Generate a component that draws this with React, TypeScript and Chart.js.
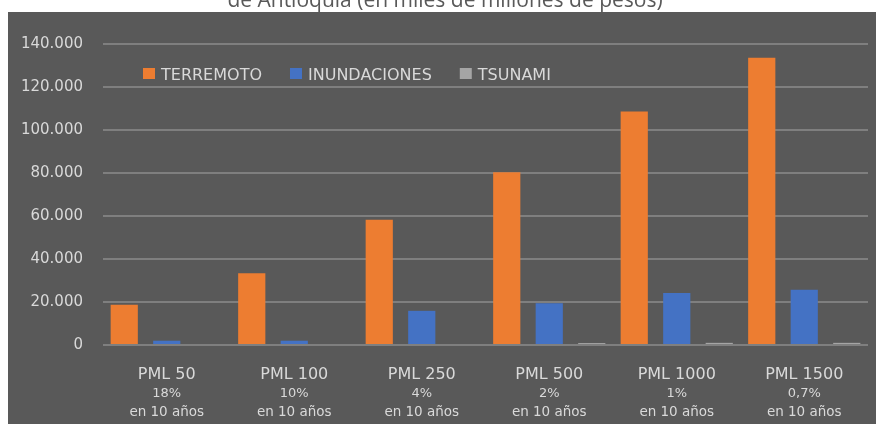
import React, { useEffect, useRef } from "react";
import { Chart, registerables } from "chart.js";

Chart.register(...registerables);

const titleText = "de Antioquia (en miles de millones de pesos)";
const categories = ["PML 50", "PML 100", "PML 250", "PML 500", "PML 1000", "PML 1500"];
const probabilities = ["18%", "10%", "4%", "2%", "1%", "0,7%"];
const periodLabel = "en 10 años";
const seriesNames = ["TERREMOTO", "INUNDACIONES", "TSUNAMI"];
const terremoto = [18700, 33400, 58200, 80300, 108600, 133600];
const inundaciones = [2000, 2000, 15900, 19400, 24200, 25700];
const tsunami = [0, 0, 0, 900, 1000, 1000];
const yMax = 140000;
const yStep = 20000;

const colors = ["#ED7D31", "#4472C4", "#A5A5A5"];
const PANEL = "#595959";
const TEXT = "#D9D9D9";
const FONT = "'DejaVu Sans', sans-serif";

const fmt = (v: number) => String(v).replace(/\B(?=(\d{3})+(?!\d))/g, ".");

const backgroundPlugin = {
  id: "bgPanel",
  beforeDraw(chart: any) {
    const { ctx, width, height } = chart;
    ctx.save();
    ctx.fillStyle = "#FFFFFF";
    ctx.fillRect(0, 0, width, height);
    ctx.fillStyle = PANEL;
    ctx.fillRect(8, 12, width - 8, height - 12);
    ctx.fillStyle = "#595959";
    ctx.font = "21px 'Open Sans', sans-serif";
    ctx.textAlign = "center";
    ctx.textBaseline = "alphabetic";
    ctx.fillText(titleText, 445, 7);
    ctx.restore();
  },
};

const xLabelsPlugin = {
  id: "xLabels",
  afterDraw(chart: any) {
    const { ctx } = chart;
    const xs = chart.scales.x;
    ctx.save();
    ctx.fillStyle = TEXT;
    ctx.textAlign = "center";
    ctx.textBaseline = "alphabetic";
    categories.forEach((c, i) => {
      const x = xs.getPixelForValue(i);
      ctx.font = `16px ${FONT}`;
      ctx.fillText(c, x, 379);
      ctx.font = `13px ${FONT}`;
      ctx.fillText(probabilities[i], x, 397);
      ctx.font = `13.5px ${FONT}`;
      ctx.fillText(periodLabel, x, 416);
    });
    ctx.restore();
  },
};

const legendPlugin = {
  id: "insideLegend",
  afterDraw(chart: any) {
    const { ctx } = chart;
    ctx.save();
    ctx.font = `16px ${FONT}`;
    ctx.textAlign = "left";
    ctx.textBaseline = "alphabetic";
    let x = 143;
    chart.data.datasets.forEach((ds: any) => {
      ctx.fillStyle = ds.backgroundColor;
      ctx.fillRect(x, 68, 12, 11);
      ctx.fillStyle = TEXT;
      ctx.fillText(ds.label, x + 18, 80);
      x += 18 + ctx.measureText(ds.label).width + 28;
    });
    ctx.restore();
  },
};

export default function App() {
  const ref = useRef<HTMLCanvasElement | null>(null);

  useEffect(() => {
    if (!ref.current) return;
    const chart = new Chart(ref.current, {
      type: "bar",
      data: {
        labels: categories,
        datasets: [terremoto, inundaciones, tsunami].map((d, i) => ({
          label: seriesNames[i],
          data: d,
          backgroundColor: colors[i],
          borderWidth: 0,
          categoryPercentage: 1,
          barPercentage: 0.64,
        })),
      },
      options: {
        animation: false,
        responsive: false,
        devicePixelRatio: 1,
        layout: { padding: { top: 44, right: 8, left: 0, bottom: 0 } },
        plugins: {
          legend: { display: false },
          title: { display: false },
          tooltip: { enabled: false },
        },
        scales: {
          x: {
            grid: { display: false },
            border: { display: false },
            ticks: { display: false },
            afterFit(scale: any) {
              scale.height = 79;
            },
          },
          y: {
            min: 0,
            max: yMax,
            grid: { color: "#7F7F7F", lineWidth: 2, drawTicks: false },
            border: { display: false },
            ticks: {
              stepSize: yStep,
              padding: 20,
              color: TEXT,
              font: { family: "DejaVu Sans", size: 15 },
              callback: (v: any) => fmt(Number(v)),
            },
            afterFit(scale: any) {
              scale.width = 103;
            },
          },
        },
      },
      plugins: [backgroundPlugin, xLabelsPlugin, legendPlugin],
    });
    return () => chart.destroy();
  }, []);

  return (
    <div style={{ position: "absolute", left: 0, top: 0, width: 876, height: 424 }}>
      <canvas ref={ref} width={876} height={424} style={{ display: "block" }} />
    </div>
  );
}
